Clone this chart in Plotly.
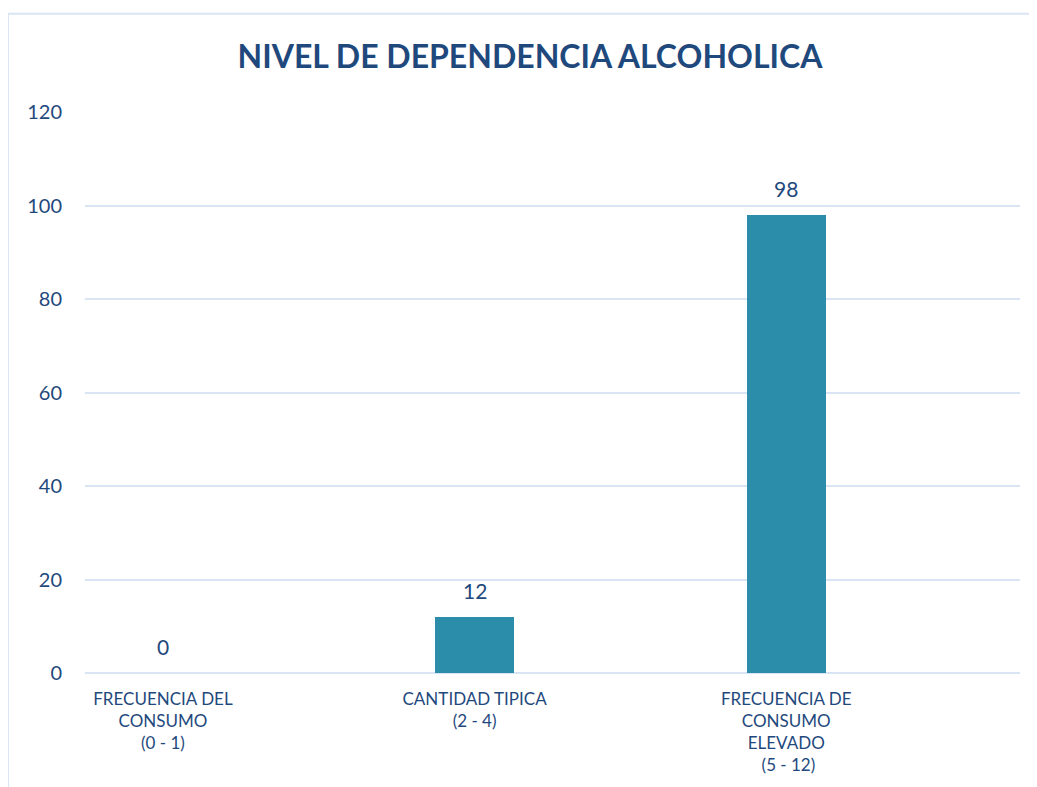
import plotly.graph_objects as go

# Data
categories = ["FRECUENCIA DEL<br>CONSUMO<br>(0 - 1)",
              "CANTIDAD TIPICA<br>(2 - 4)",
              "FRECUENCIA DE<br>CONSUMO<br>ELEVADO<br> (5 - 12)"]
values = [0, 12, 98]
y_ticks = [0, 20, 40, 60, 80, 100, 120]

text_color = "#1F497D"
grid_color = "#D9E5F4"

x_pos = list(range(len(categories)))

fig = go.Figure()

fig.add_trace(go.Bar(
    x=x_pos,
    y=values,
    width=0.254,
    marker=dict(color="#2B8DA9", line=dict(width=0)),
    hoverinfo="y",
))

# value labels above bars
for xi, v in zip(x_pos, values):
    fig.add_annotation(x=xi, y=v, text=str(v), showarrow=False,
                       yanchor="bottom", yshift=12,
                       font=dict(size=21, color=text_color))

# Chart border
fig.add_shape(type="rect", xref="paper", yref="paper",
              x0=-0.0824, x1=1.0107, y0=-0.22, y1=1.175,
              line=dict(color=grid_color, width=2), layer="below")

fig.update_layout(
    width=1029, height=779,
    margin=dict(l=77, r=17, t=104, b=109),
    plot_bgcolor="white", paper_bgcolor="white",
    font=dict(family="Lato, Calibri, sans-serif", color=text_color),
    title=dict(text="<b>NIVEL DE DEPENDENCIA ALCOHOLICA</b>",
               x=(530 - 8) / 1029, xanchor="center", xref="container",
               y=1 - (57 - 8) / 779, yanchor="middle", yref="container",
               font=dict(size=32, color=text_color)),
    showlegend=False,
    bargap=0,
    xaxis=dict(
        tickmode="array",
        tickvals=x_pos,
        ticktext=categories,
        range=[-0.25, 2.75],
        showgrid=False, zeroline=False, showline=False,
        tickfont=dict(size=17, color=text_color),
        ticks="", ticklabelstandoff=14,
    ),
    yaxis=dict(
        range=[0, 120],
        tickvals=y_ticks,
        showgrid=True, gridcolor=grid_color, gridwidth=2,
        zeroline=True, zerolinecolor=grid_color, zerolinewidth=2,
        showline=False, ticks="",
        tickfont=dict(size=20, color=text_color),
        ticklabelstandoff=22,
    ),
)

fig.write_html("out.html")
